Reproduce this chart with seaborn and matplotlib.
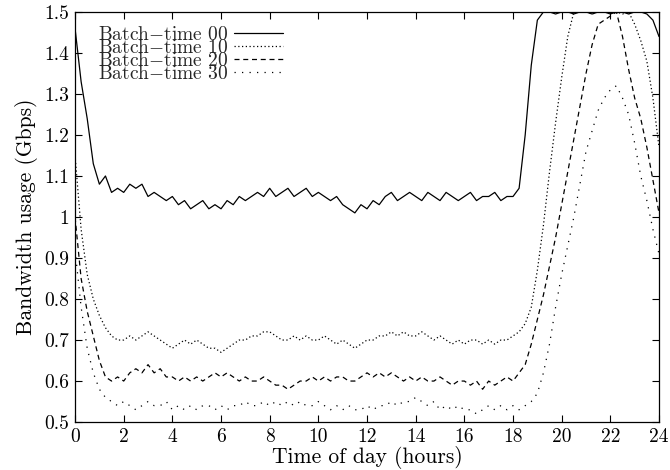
import numpy as np
import pandas as pd
import matplotlib
matplotlib.use('Agg')
import matplotlib.pyplot as plt
import seaborn as sns

# sample grid (hours), one value every 15 minutes
hours = np.arange(97) * 0.25

batch_00 = [
    1.46, 1.33, 1.24, 1.13,
    1.08, 1.10, 1.06, 1.07,
    1.06, 1.08, 1.07, 1.08,
    1.05, 1.06, 1.05, 1.04,
    1.05, 1.03, 1.04, 1.02,
    1.03, 1.04, 1.02, 1.03,
    1.02, 1.04, 1.03, 1.05,
    1.04, 1.05, 1.06, 1.05,
    1.07, 1.05, 1.06, 1.07,
    1.05, 1.06, 1.07, 1.05,
    1.06, 1.05, 1.04, 1.05,
    1.03, 1.02, 1.01, 1.03,
    1.02, 1.04, 1.03, 1.05,
    1.06, 1.04, 1.05, 1.06,
    1.05, 1.04, 1.06, 1.05,
    1.04, 1.06, 1.05, 1.04,
    1.05, 1.06, 1.04, 1.05,
    1.05, 1.06, 1.04, 1.05,
    1.05, 1.07, 1.20, 1.37,
    1.48, 1.50, 1.50, 1.495,
    1.50, 1.50, 1.495, 1.50,
    1.50, 1.495, 1.50, 1.50,
    1.495, 1.50, 1.50, 1.495,
    1.50, 1.50, 1.495, 1.48,
    1.44,
]

batch_10 = [
    1.15, 0.97, 0.86, 0.80,
    0.76, 0.73, 0.71, 0.70,
    0.70, 0.71, 0.70, 0.71,
    0.72, 0.71, 0.70, 0.69,
    0.68, 0.69, 0.70, 0.69,
    0.70, 0.69, 0.68, 0.68,
    0.67, 0.68, 0.69, 0.70,
    0.70, 0.71, 0.71, 0.72,
    0.72, 0.71, 0.70, 0.70,
    0.71, 0.70, 0.71, 0.70,
    0.70, 0.71, 0.70, 0.69,
    0.70, 0.69, 0.68, 0.69,
    0.70, 0.70, 0.71, 0.71,
    0.72, 0.71, 0.72, 0.71,
    0.71, 0.72, 0.71, 0.70,
    0.71, 0.70, 0.69, 0.70,
    0.69, 0.70, 0.70, 0.69,
    0.70, 0.69, 0.70, 0.70,
    0.71, 0.72, 0.74, 0.78,
    0.87, 0.98, 1.11, 1.23,
    1.34, 1.44, 1.50, 1.50,
    1.50, 1.495, 1.50, 1.50,
    1.50, 1.50, 1.495, 1.50,
    1.47, 1.43, 1.38, 1.29,
    1.17,
]

batch_20 = [
    1.00, 0.85, 0.77, 0.71,
    0.65, 0.61, 0.60, 0.61,
    0.60, 0.62, 0.63, 0.62,
    0.64, 0.62, 0.63, 0.61,
    0.61, 0.60, 0.61, 0.60,
    0.61, 0.60, 0.61, 0.62,
    0.61, 0.62, 0.61, 0.60,
    0.61, 0.60, 0.60, 0.61,
    0.60, 0.59, 0.59, 0.58,
    0.59, 0.60, 0.60, 0.61,
    0.60, 0.61, 0.60, 0.61,
    0.61, 0.60, 0.60, 0.61,
    0.62, 0.61, 0.62, 0.61,
    0.62, 0.61, 0.60, 0.61,
    0.60, 0.61, 0.60, 0.60,
    0.61, 0.60, 0.59, 0.60,
    0.60, 0.59, 0.60, 0.58,
    0.60, 0.59, 0.60, 0.61,
    0.60, 0.62, 0.64, 0.69,
    0.75, 0.81, 0.88, 0.95,
    1.03, 1.11, 1.19, 1.27,
    1.35, 1.42, 1.47, 1.48,
    1.49, 1.50, 1.44, 1.36,
    1.29, 1.24, 1.17, 1.09,
    1.01,
]

batch_30 = [
    0.92, 0.78, 0.68, 0.62,
    0.58, 0.56, 0.55, 0.54,
    0.55, 0.54, 0.53, 0.54,
    0.55, 0.54, 0.54, 0.55,
    0.53, 0.54, 0.53, 0.54,
    0.53, 0.54, 0.54, 0.53,
    0.54, 0.53, 0.54, 0.54,
    0.55, 0.54, 0.54, 0.55,
    0.54, 0.55, 0.54, 0.55,
    0.54, 0.55, 0.54, 0.54,
    0.55, 0.54, 0.53, 0.54,
    0.53, 0.54, 0.53, 0.53,
    0.54, 0.53, 0.54, 0.54,
    0.55, 0.54, 0.55, 0.55,
    0.56, 0.55, 0.54, 0.55,
    0.53, 0.54, 0.53, 0.54,
    0.53, 0.53, 0.52, 0.53,
    0.54, 0.53, 0.54, 0.53,
    0.54, 0.53, 0.54, 0.55,
    0.57, 0.62, 0.69, 0.78,
    0.86, 0.93, 1.00, 1.08,
    1.16, 1.21, 1.26, 1.29,
    1.31, 1.32, 1.29, 1.25,
    1.18, 1.10, 1.04, 0.97,
    0.91,
]

labels = ['Batch$-$time 00', 'Batch$-$time 10', 'Batch$-$time 20', 'Batch$-$time 30']
series = [batch_00, batch_10, batch_20, batch_30]
styles = ['-', (0, (1, 2)), (0, (4, 3)), (0, (1, 5))]

x_ticks = list(range(0, 25, 2))
y_ticks = [0.5, 0.6, 0.7, 0.8, 0.9, 1.0, 1.1, 1.2, 1.3, 1.4, 1.5]
y_tick_labels = ['0.5', '0.6', '0.7', '0.8', '0.9', '1', '1.1', '1.2', '1.3', '1.4', '1.5']

sns.set_theme(style='ticks')
plt.rcParams['font.family'] = ['cmr10', 'DejaVu Serif']
plt.rcParams['mathtext.fontset'] = 'cm'
plt.rcParams['axes.unicode_minus'] = False

fig = plt.figure(figsize=(6.7, 4.7), dpi=100)
ax = fig.add_axes([0.112, 0.102, 0.8716, 0.8726])

for vals, lab, ls in zip(series, labels, styles):
    df = pd.DataFrame({'hour': hours, 'bw': vals})
    sns.lineplot(data=df, x='hour', y='bw', ax=ax, color='black',
                 linewidth=0.9, label=lab, linestyle=ls)

ax.set_xlim(0, 24)
ax.set_ylim(0.5, 1.5)
ax.set_xticks(x_ticks)
ax.set_xticklabels([str(t) for t in x_ticks])
ax.set_yticks(y_ticks)
ax.set_yticklabels(y_tick_labels)
ax.tick_params(direction='in', top=True, right=True, length=5, width=0.8,
               labelsize=14, colors='black', pad=4)
for sp in ax.spines.values():
    sp.set_color('black')
    sp.set_linewidth(0.9)

ax.set_xlabel('Time of day (hours)', fontsize=15.5, color='black', labelpad=0)
ax.set_ylabel('Bandwidth usage (Gbps)', fontsize=15.5, color='black', labelpad=5)

leg = ax.legend(loc='upper left', bbox_to_anchor=(0.016, 1.0), frameon=False,
                markerfirst=False, fontsize=14, labelspacing=-0.25,
                handlelength=2.5, handletextpad=0.3, borderpad=0.2)

fig.savefig('out.png', dpi=100)
